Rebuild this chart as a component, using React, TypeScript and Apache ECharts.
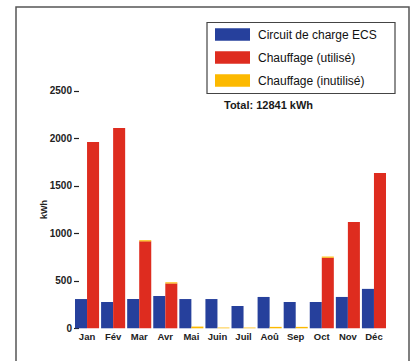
import React, { useEffect, useRef } from "react";
import * as echarts from "echarts";

const months = ["Jan", "Fév", "Mar", "Avr", "Mai", "Juin", "Juil", "Aoû", "Sep", "Oct", "Nov", "Déc"];
const ecsCharge = [308, 277, 308, 340, 308, 308, 235, 330, 277, 277, 330, 415];
const heatingUsed = [1961, 2108, 915, 472, 0, 0, 0, 0, 0, 743, 1120, 1635];
const heatingUnused = [0, 0, 12, 12, 18, 8, 8, 15, 15, 12, 0, 0];
const yTicks = { min: 0, max: 2500, interval: 500 };
const totalLabel = "Total: 12841 kWh";
const seriesNames = ["Circuit de charge ECS", "Chauffage (utilisé)", "Chauffage (inutilisé)"];

const FONT = "'Liberation Sans', Arial, Helvetica, sans-serif";
const BLUE = "#26409c";
const RED = "#de2c1f";
const YELLOW = "#fcb900";

export default function App() {
  const ref = useRef<HTMLDivElement>(null);

  useEffect(() => {
    if (!ref.current) return;
    const chart = echarts.init(ref.current, null, { renderer: "svg" });
    chart.setOption({
      animation: false,
      backgroundColor: "#ffffff",
      textStyle: { fontFamily: FONT },
      grid: { left: 74, right: 29, top: 90.8, bottom: 32.7 },
      legend: {
        orient: "vertical",
        left: 215,
        top: 28.3,
        itemWidth: 35,
        itemHeight: 12.5,
        itemGap: 10.5,
        padding: 0,
        selectedMode: false,
        icon: "rect",
        data: seriesNames,
        textStyle: { fontFamily: FONT, fontSize: 12, color: "#111", padding: [0, 0, 0, 3] },
      },
      xAxis: {
        type: "category",
        data: months,
        axisLine: { show: false },
        axisTick: { show: false },
        axisLabel: {
          margin: 3,
          fontSize: 9.5,
          fontWeight: "bold",
          color: "#222",
          fontFamily: FONT,
          interval: 0,
        },
      },
      yAxis: {
        type: "value",
        min: yTicks.min,
        max: yTicks.max,
        interval: yTicks.interval,
        offset: -5,
        name: "kWh",
        nameLocation: "middle",
        nameRotate: 90,
        nameGap: 31,
        nameMoveOverlap: false,
        nameTextStyle: { fontSize: 9, fontWeight: "bold", color: "#222", fontFamily: FONT },
        axisLine: { show: false },
        axisTick: { show: true, length: 5, lineStyle: { color: "#222", width: 1.2 } },
        splitLine: { show: false },
        axisLabel: {
          margin: 7,
          fontSize: 10,
          fontWeight: "bold",
          color: "#222",
          fontFamily: FONT,
          formatter: (v: number) => String(v),
        },
      },
      series: [
        {
          name: seriesNames[0],
          type: "bar",
          data: ecsCharge,
          itemStyle: { color: BLUE },
          barGap: "0%",
          barCategoryGap: "7.7%",
        },
        {
          name: seriesNames[1],
          type: "bar",
          stack: "chauffage",
          data: heatingUsed,
          itemStyle: { color: RED },
        },
        {
          name: seriesNames[2],
          type: "bar",
          stack: "chauffage",
          data: heatingUnused,
          itemStyle: { color: YELLOW },
        },
      ],
      graphic: [
        {
          type: "rect",
          shape: { x: 16, y: 7, width: 393, height: 362 },
          style: { fill: "none", stroke: "#555", lineWidth: 1.5 },
          silent: true,
        },
        {
          type: "rect",
          shape: { x: 207, y: 22.5, width: 188, height: 71 },
          style: { fill: "none", stroke: "#444", lineWidth: 1.2 },
          silent: true,
        },
        {
          type: "text",
          x: 224,
          y: 105,
          style: {
            text: totalLabel,
            fontSize: 11,
            fontWeight: "bold",
            fontFamily: FONT,
            fill: "#1a1a1a",
            verticalAlign: "middle",
            align: "left",
          },
        },
      ],
    });
    return () => chart.dispose();
  }, []);

  return (
    <div
      ref={ref}
      style={{ position: "fixed", left: 0, top: 0, width: 416, height: 361 }}
    />
  );
}
